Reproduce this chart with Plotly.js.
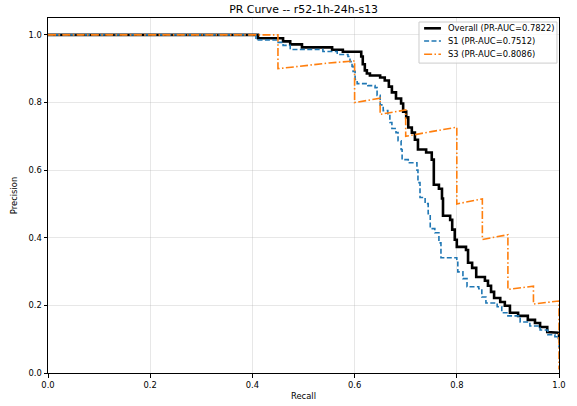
<!DOCTYPE html>
<html>
<head>
<meta charset="utf-8">
<script src="https://cdn.plot.ly/plotly-3.0.1.min.js"></script>
<style>
  html, body { margin: 0; padding: 0; background: #ffffff; }
  #chart { width: 577px; height: 406px; }
</style>
</head>
<body>
<div id="chart"></div>
<script>
// Precision-recall curve vertices for each series.
// Overall and S1: recall where precision drops, and precision after the drop.
const overallRecall = [0.411, 0.460, 0.474, 0.497, 0.556, 0.577, 0.613, 0.616, 0.620, 0.624,
  0.630, 0.650, 0.659, 0.667, 0.673, 0.681, 0.691, 0.695, 0.701, 0.705,
  0.712, 0.718, 0.724, 0.740, 0.751, 0.755, 0.765, 0.771, 0.773, 0.787,
  0.791, 0.796, 0.800, 0.818, 0.822, 0.830, 0.838, 0.855, 0.861, 0.867,
  0.873, 0.885, 0.894, 0.904, 0.920, 0.939, 0.953, 0.963, 0.977, 0.988,
  1.000, 1.000];
const overallPrecision = [0.990, 0.981, 0.972, 0.963, 0.956, 0.950, 0.936, 0.913, 0.895, 0.886,
  0.880, 0.874, 0.865, 0.847, 0.830, 0.812, 0.797, 0.773, 0.756, 0.726,
  0.711, 0.690, 0.661, 0.652, 0.631, 0.557, 0.545, 0.516, 0.465, 0.453,
  0.424, 0.394, 0.373, 0.364, 0.326, 0.311, 0.284, 0.273, 0.258, 0.240,
  0.222, 0.210, 0.199, 0.178, 0.169, 0.157, 0.148, 0.136, 0.121, 0.119,
  0.116, 0.100];

const s1Recall = [0.407, 0.448, 0.460, 0.474, 0.538, 0.566, 0.587, 0.591, 0.595, 0.597,
  0.601, 0.605, 0.626, 0.640, 0.644, 0.650, 0.656, 0.665, 0.669, 0.673,
  0.681, 0.685, 0.691, 0.693, 0.705, 0.722, 0.724, 0.728, 0.738, 0.744,
  0.748, 0.757, 0.765, 0.769, 0.800, 0.802, 0.812, 0.820, 0.843, 0.849,
  0.857, 0.879, 0.888, 0.900, 0.924, 0.943, 0.963, 0.978, 0.992, 1.000,
  1.000];
const s1Precision = [0.985, 0.978, 0.969, 0.957, 0.951, 0.942, 0.936, 0.921, 0.907, 0.892,
  0.868, 0.856, 0.850, 0.844, 0.821, 0.793, 0.776, 0.767, 0.741, 0.723,
  0.711, 0.687, 0.661, 0.631, 0.622, 0.600, 0.563, 0.519, 0.501, 0.471,
  0.427, 0.415, 0.385, 0.341, 0.332, 0.299, 0.279, 0.255, 0.249, 0.225,
  0.207, 0.196, 0.178, 0.169, 0.151, 0.139, 0.127, 0.113, 0.107, 0.105,
  0.075];

// S3 has few positives, so every curve point is listed.
const s3Recall = [0.00, 0.05, 0.10, 0.15, 0.20, 0.25, 0.30, 0.35, 0.40, 0.45, 0.45,
  0.50, 0.55, 0.60, 0.60, 0.65, 0.65, 0.70, 0.70, 0.75, 0.80, 0.80,
  0.85, 0.85, 0.90, 0.90, 0.95, 0.95, 1.00, 1.00];
const s3Precision = [1.000, 1.000, 1.000, 1.000, 1.000, 1.000, 1.000, 1.000, 1.000, 1.000, 0.900,
  0.909, 0.917, 0.923, 0.800, 0.8125, 0.765, 0.778, 0.700, 0.714, 0.727, 0.500,
  0.515, 0.395, 0.409, 0.247, 0.257, 0.204, 0.213, 0.010];

const seriesNames = ['Overall (PR-AUC=0.7822)', 'S1 (PR-AUC=0.7512)', 'S3 (PR-AUC=0.8086)'];
const xTicks = [0, 0.2, 0.4, 0.6, 0.8, 1.0];
const yTicks = [0, 0.2, 0.4, 0.6, 0.8, 1.0];

// Turn drop points into a staircase starting at (0, 1).
function stairs(rec, prec) {
  const x = [0], y = [1];
  let prev = 1;
  for (let i = 0; i < rec.length; i++) {
    x.push(rec[i], rec[i]);
    y.push(prev, prec[i]);
    prev = prec[i];
  }
  return { x, y };
}

const ov = stairs(overallRecall, overallPrecision);
const s1 = stairs(s1Recall, s1Precision);

const FONT = 'DejaVu Sans, Liberation Sans, sans-serif';

const lineStyles = [
  { color: '#000000', width: 2.6 },
  { color: '#1f77b4', width: 1.6, dash: '5px,2.4px' },
  { color: '#ff7f0e', width: 1.6, dash: '8px,2.4px,1.5px,2.4px' }
];

const traces = [
  { x: ov.x, y: ov.y, mode: 'lines', name: seriesNames[0], line: lineStyles[0] },
  { x: s1.x, y: s1.y, mode: 'lines', name: seriesNames[1], line: lineStyles[1] },
  { x: s3Recall, y: s3Precision, mode: 'lines', name: seriesNames[2], line: lineStyles[2] }
];

// Compact legend box in the upper-right corner of the axes (paper coordinates).
const legendBox = { x0: 0.726, x1: 0.996, y0: 0.873, y1: 0.9887 };
const legendRows = [0.971, 0.9352, 0.8977];
const shapes = [{
  type: 'rect', xref: 'paper', yref: 'paper', layer: 'above',
  x0: legendBox.x0, x1: legendBox.x1, y0: legendBox.y0, y1: legendBox.y1,
  fillcolor: 'rgba(255,255,255,0.8)', line: { color: '#cccccc', width: 1 }
}];
const annotations = [];
seriesNames.forEach((name, i) => {
  shapes.push({
    type: 'line', xref: 'paper', yref: 'paper', layer: 'above',
    x0: 0.736, x1: 0.769, y0: legendRows[i], y1: legendRows[i],
    line: lineStyles[i]
  });
  annotations.push({
    xref: 'paper', yref: 'paper', x: 0.779, y: legendRows[i],
    xanchor: 'left', yanchor: 'middle', showarrow: false, text: name,
    font: { family: FONT, size: 8.4, color: '#000000' }
  });
});

const axisCommon = {
  showline: true, linecolor: '#000000', linewidth: 1, mirror: true,
  ticks: 'outside', ticklen: 3.5, tickwidth: 1, tickcolor: '#000000',
  showgrid: true, gridcolor: 'rgba(176,176,176,0.3)', gridwidth: 1,
  zeroline: false, tickformat: '.1f',
  tickfont: { family: FONT, size: 8.4, color: '#000000' }
};

const layout = {
  width: 577, height: 406,
  margin: { l: 48, r: 18, t: 18, b: 33, pad: 0 },
  paper_bgcolor: '#ffffff', plot_bgcolor: '#ffffff',
  font: { family: FONT, size: 8.4, color: '#000000' },
  title: { text: 'PR Curve -- r52-1h-24h-s13', x: 0.5262, xanchor: 'center',
    y: 0.978, yanchor: 'middle', font: { family: FONT, size: 10.9, color: '#000000' } },
  xaxis: Object.assign({}, axisCommon, {
    range: [0, 1], tickvals: xTicks,
    title: { text: 'Recall', standoff: 4, font: { family: FONT, size: 8.4 } }
  }),
  yaxis: Object.assign({}, axisCommon, {
    range: [0, 1.05], tickvals: yTicks,
    title: { text: 'Precision', standoff: 9, font: { family: FONT, size: 8.4 } }
  }),
  showlegend: false,
  shapes: shapes,
  annotations: annotations
};

Plotly.newPlot('chart', traces, layout, { displayModeBar: false, staticPlot: true });
</script>
</body>
</html>
